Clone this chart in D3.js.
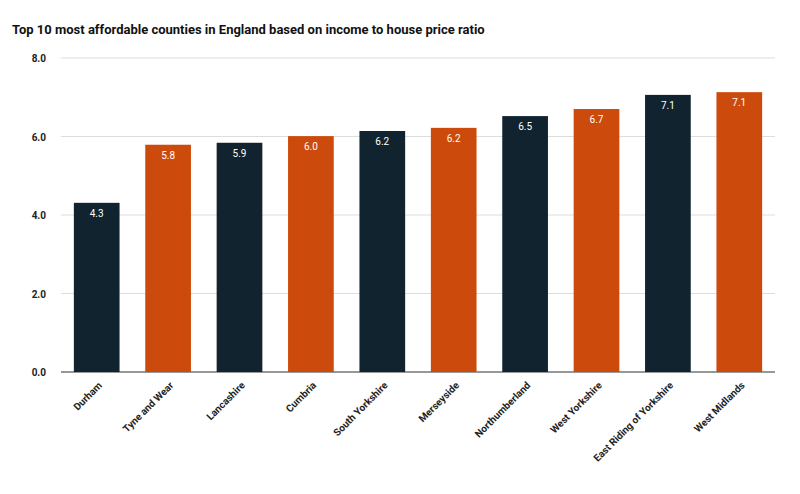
<!DOCTYPE html>
<html><head><meta charset="utf-8">
<script src="https://cdn.jsdelivr.net/npm/d3@7"></script>
<style>body{margin:0;background:#fff}text{font-family:Roboto,Arial,sans-serif}</style>
</head><body><svg width="800" height="494"></svg>
<script>
const counties = ["Durham","Tyne and Wear","Lancashire","Cumbria","South Yorkshire","Merseyside","Northumberland","West Yorkshire","East Riding of Yorkshire","West Midlands"];
const ratios = [4.31,5.79,5.84,6.01,6.14,6.22,6.52,6.70,7.06,7.13];
const labels = ["4.3","5.8","5.9","6.0","6.2","6.2","6.5","6.7","7.1","7.1"];
const yTicks = [0,2,4,6,8];
const colors = ["#10232f","#cc4a0b"];

const svg = d3.select("svg");
const plotLeft = 61, plotRight = 775, plotTop = 58, plotBottom = 372;
const x = d3.scaleBand().domain(counties).range([plotLeft, plotRight]).paddingInner(0.36).paddingOuter(0.18);
const y = d3.scaleLinear().domain([0, 8]).range([plotBottom, plotTop]);

svg.append("text").attr("x", 12).attr("y", 34).attr("font-size", 13).attr("font-weight", 700)
  .attr("fill", "#111").text("Top 10 most affordable counties in England based on income to house price ratio");

svg.selectAll(".grid").data(yTicks).enter().append("line")
  .attr("x1", plotLeft).attr("x2", plotRight).attr("y1", d => y(d)).attr("y2", d => y(d))
  .attr("stroke", d => d === 0 ? "#333" : "#ddd").attr("stroke-width", d => d === 0 ? 1.2 : 1);
svg.selectAll(".yl").data(yTicks).enter().append("text")
  .attr("x", 46).attr("y", d => y(d) + 4).attr("text-anchor", "end")
  .attr("font-size", 10).attr("font-weight", 700).attr("fill", "#222").text(d => d.toFixed(1));

svg.selectAll(".bar").data(counties).enter().append("rect")
  .attr("x", d => x(d)).attr("width", x.bandwidth())
  .attr("y", (d, i) => y(ratios[i])).attr("height", (d, i) => y(0) - y(ratios[i]))
  .attr("fill", (d, i) => colors[i % 2]);
svg.selectAll(".vl").data(counties).enter().append("text")
  .attr("x", d => x(d) + x.bandwidth() / 2).attr("y", (d, i) => y(ratios[i]) + 14)
  .attr("text-anchor", "middle").attr("font-size", 10).attr("fill", "#fff").text((d, i) => labels[i]);

svg.selectAll(".xl").data(counties).enter().append("text")
  .attr("transform", d => `translate(${x(d) + x.bandwidth() / 2 + 6},${plotBottom + 14}) rotate(-45)`)
  .attr("text-anchor", "end").attr("font-size", 10).attr("font-weight", 700).attr("fill", "#222").text(d => d);
</script></body></html>
